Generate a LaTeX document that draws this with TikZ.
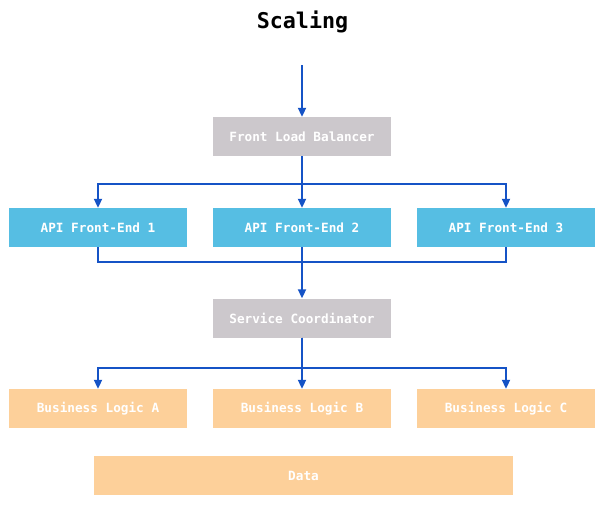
\documentclass[tikz,border=0pt]{standalone}
\usepackage{fontspec}
\setmonofont{DejaVu Sans Mono}
\usetikzlibrary{arrows.meta}
\definecolor{apiblue}{HTML}{56BEE3}
\definecolor{boxgrey}{HTML}{CCC8CC}
\definecolor{peach}{HTML}{FDD09A}
\definecolor{linkblue}{HTML}{1553C6}
\tikzset{
  box/.style={minimum width=178pt, minimum height=39pt, inner sep=0pt, text=white, font=\ttfamily\bfseries\fontsize{12.7}{13}\selectfont},
  greybox/.style={box, fill=boxgrey},
  apibox/.style={box, fill=apiblue},
  bizbox/.style={box, fill=peach},
  link/.style={draw=linkblue, line width=2pt},
  arr/.style={link, -{Triangle[length=9pt,width=8pt]}}
}
\begin{document}
\begin{tikzpicture}[x=1pt,y=1pt]
\useasboundingbox (0,0) rectangle (605,-506);
\node[font=\ttfamily\bfseries\fontsize{21.7}{24}\selectfont] (title) at (302.5,-22) {Scaling};
\coordinate (in) at (302,-65);
\node[greybox] (flb) at (302,-136.5) {Front Load Balancer};
\node[apibox] (api1) at (98,-227.5) {API Front-End 1};
\node[apibox] (api2) at (302,-227.5) {API Front-End 2};
\node[apibox] (api3) at (506,-227.5) {API Front-End 3};
\node[greybox] (sc) at (302,-318) {Service Coordinator};
\node[bizbox] (bla) at (98,-408.5) {Business Logic A};
\node[bizbox] (blb) at (302,-408.5) {Business Logic B};
\node[bizbox] (blc) at (506,-408.5) {Business Logic C};
\node[bizbox, minimum width=419pt] (data) at (303.5,-475.5) {Data};
% arrows
\draw[arr] (in) -- (flb.north);
\draw[arr] (flb.south) -- (api2.north);
\draw[arr] (flb.south) -- ++(0,-28) -| (api1.north);
\draw[arr] (flb.south) -- ++(0,-28) -| (api3.north);
\draw[link] (api1.south) -- ++(0,-15) -| (api3.south);
\draw[arr] (api2.south) -- (sc.north);
\draw[arr] (sc.south) -- (blb.north);
\draw[arr] (sc.south) -- ++(0,-30) -| (bla.north);
\draw[arr] (sc.south) -- ++(0,-30) -| (blc.north);
\end{tikzpicture}
\end{document}
